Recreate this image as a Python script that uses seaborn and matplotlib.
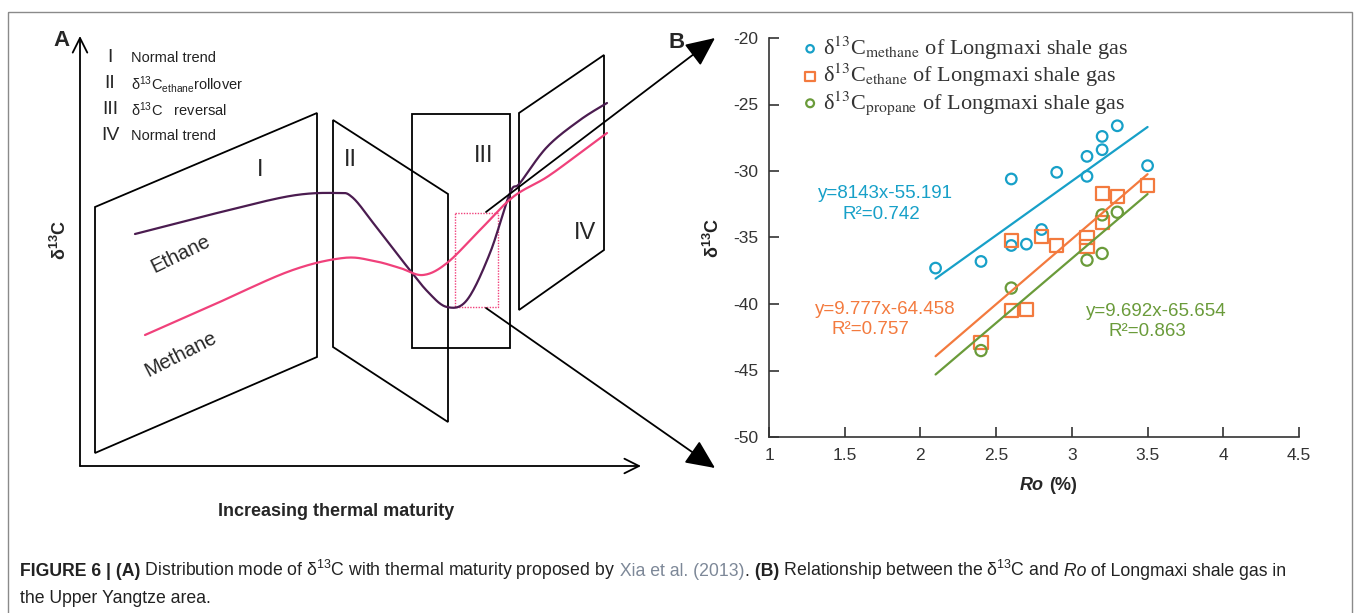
import numpy as np
import pandas as pd
import matplotlib
matplotlib.use("Agg")
import matplotlib.pyplot as plt
import seaborn as sns
from matplotlib.patches import Polygon, Rectangle

# ---------------- data (panel B) ----------------
ro_methane = [2.1, 2.4, 2.6, 2.6, 2.7, 2.8, 2.9, 3.1, 3.1, 3.2, 3.2, 3.3, 3.5]
d13c_methane = [-37.3, -36.8, -30.6, -35.6, -35.5, -34.4, -30.1, -28.9, -30.4, -27.4, -28.4, -26.6, -29.6]
ro_ethane = [2.4, 2.6, 2.6, 2.7, 2.8, 2.9, 3.1, 3.1, 3.2, 3.2, 3.3, 3.5]
d13c_ethane = [-42.9, -35.2, -40.5, -40.4, -34.9, -35.6, -35.0, -35.7, -31.7, -33.9, -31.9, -31.1]
ro_propane = [2.4, 2.6, 3.1, 3.2, 3.2, 3.3]
d13c_propane = [-43.5, -38.8, -36.7, -36.2, -33.3, -33.1]

fit_slopes = [8.143, 9.777, 9.692]
fit_intercepts = [-55.191, -64.458, -65.654]
fit_range = [2.1, 3.5]
eq_labels = ["y=8143x-55.191", "y=9.777x-64.458", "y=9.692x-65.654"]
r2_labels = ["R²=0.742", "R²=0.757", "R²=0.863"]
series_names = ["methane", "ethane", "propane"]
x_ticks = [1, 1.5, 2, 2.5, 3, 3.5, 4, 4.5]
x_ticklabels = ["1", "1.5", "2", "2.5", "3", "3.5", "4", "4.5"]
y_ticks = [-50, -45, -40, -35, -30, -25, -20]
y_ticklabels = ["-50", "-45", "-40", "-35", "-30", "-25", "-20"]

# ---------------- schematic (panel A) ----------------
stage_numerals = ["I", "II", "III", "IV"]
stage_texts = ["Normal trend", "δ$^{13}$C$_{\\mathregular{ethane}}$rollover", "δ$^{13}$C   reversal", "Normal trend"]
ethane_curve = [(135, 234), (213, 214), (290, 196), (336, 193), (352, 197), (374, 224), (405, 264),
                (428, 292), (447, 307), (467, 300), (490, 253), (510, 193), (520, 183), (547, 147),
                (580, 120), (607, 103)]
methane_curve = [(145, 335), (213, 305), (290, 271), (343, 258), (374, 261), (400, 268), (423, 275),
                 (447, 263), (480, 230), (513, 197), (547, 177), (580, 153), (607, 133)]

sns.set_theme(style="ticks")
plt.rcParams['font.family'] = ['Liberation Sans', 'DejaVu Sans']
plt.rcParams['mathtext.fontset'] = 'custom'
plt.rcParams['mathtext.rm'] = 'Liberation Sans'
plt.rcParams['mathtext.it'] = 'Liberation Sans:italic'
plt.rcParams['mathtext.bf'] = 'Liberation Sans:bold'
plt.rcParams['axes.unicode_minus'] = False

C_M = "#17a0c8"
C_E = "#f37a3e"
C_P = "#6a9b3a"
PURPLE = "#4b1c50"
PINK = "#f0417b"

W, H = 1354, 613
fig = plt.figure(figsize=(W / 100, H / 100), dpi=100)
fig.patch.set_facecolor("white")
ax0 = fig.add_axes([0, 0, 1, 1])
ax0.set_xlim(0, W)
ax0.set_ylim(H, 0)
ax0.axis("off")

# outer frame
ax0.add_patch(Rectangle((8, 12), 1344, 610, fill=False, ec="#8a8a8a", lw=1.0))

# ---- panel A drawing ----
def smooth(pts, n=24):
    P = np.asarray(pts, float)
    P = np.vstack([P[0], P, P[-1]])
    out = []
    t = np.linspace(0, 1, n, endpoint=False)[:, None]
    for i in range(1, len(P) - 2):
        p0, p1, p2, p3 = P[i - 1], P[i], P[i + 1], P[i + 2]
        out.append(0.5 * ((2 * p1) + (-p0 + p2) * t + (2 * p0 - 5 * p1 + 4 * p2 - p3) * t ** 2
                          + (-p0 + 3 * p1 - 3 * p2 + p3) * t ** 3))
    out.append(P[-2][None, :])
    return np.vstack(out)

lk = dict(color="black", lw=1.3)
# axes arrows
ax0.annotate("", xy=(80, 36), xytext=(80, 466),
             arrowprops=dict(arrowstyle="->,head_length=0.7,head_width=0.35", mutation_scale=15,
                             shrinkA=0, shrinkB=0, **lk))
ax0.annotate("", xy=(641, 466), xytext=(80, 466),
             arrowprops=dict(arrowstyle="->,head_length=0.7,head_width=0.35", mutation_scale=15,
                             shrinkA=0, shrinkB=0, **lk))
# stage planes
planes = [
    [(95, 207), (317, 113), (317, 357), (95, 453)],
    [(333, 120), (448, 194), (448, 422), (333, 347)],
    [(412, 114), (510, 114), (510, 348), (412, 348)],
    [(519, 113), (604, 55), (604, 250), (519, 310)],
]
for pl in planes:
    ax0.add_patch(Polygon(pl, closed=True, fill=False, ec="black", lw=1.3))

# curves
ec = smooth(ethane_curve)
mc = smooth(methane_curve)
ax0.plot(ec[:, 0], ec[:, 1], color=PURPLE, lw=1.6, solid_capstyle="round")
ax0.plot(mc[:, 0], mc[:, 1], color=PINK, lw=1.6, solid_capstyle="round")

# dotted box
ax0.add_patch(Rectangle((455, 213), 43, 94, fill=False, ec=PINK, lw=1.0, ls=(0, (1, 1))))

# arrows to panel B
ax0.annotate("", xy=(715, 38), xytext=(486, 212),
             arrowprops=dict(arrowstyle="-|>,head_length=1.2,head_width=0.55", mutation_scale=15,
                             shrinkA=0, shrinkB=0, fc="black", **lk))
ax0.annotate("", xy=(715, 468), xytext=(486, 308),
             arrowprops=dict(arrowstyle="-|>,head_length=1.2,head_width=0.55", mutation_scale=15,
                             shrinkA=0, shrinkB=0, fc="black", **lk))

# labels in A
ax0.text(61, 40, "A", fontsize=16, fontweight="bold", ha="center", va="center")
ax0.text(677, 42, "B", fontsize=16, fontweight="bold", ha="center", va="center")
leg_y = [58, 84, 110, 136]
for num, txt, yy in zip(stage_numerals, stage_texts, leg_y):
    ax0.text(110, yy, num, fontsize=14, ha="center", va="center")
    ax0.text(131, yy, txt, fontsize=10.5, ha="left", va="center", color="#222222")
for num, (xx, yy) in zip(stage_numerals, [(260, 170), (350, 160), (484, 156), (585, 233)]):
    ax0.text(xx, yy, num, fontsize=17, ha="center", va="center")
ax0.text(181, 254, "Ethane", fontsize=14.5, rotation=26, ha="center", va="center")
ax0.text(181, 354, "Methane", fontsize=14.5, rotation=27, ha="center", va="center")
ax0.text(60, 240, "δ$^{\\mathbf{13}}$C", fontsize=13, fontweight="bold", rotation=90,
         ha="center", va="center")
ax0.text(336, 512, "Increasing thermal maturity", fontsize=13, fontweight="bold",
         ha="center", va="center")

# ---- panel B ----
axB = fig.add_axes([769 / W, 1 - 437 / H, 530 / W, 399 / H])
axB.patch.set_alpha(0)
colors = [C_M, C_E, C_P]
markers = ["o", "s", "o"]
xs = [ro_methane, ro_ethane, ro_propane]
ys = [d13c_methane, d13c_ethane, d13c_propane]
sizes = [58, 90, 65]
for name, c, m, x, y, s in zip(series_names, colors, markers, xs, ys, sizes):
    df = pd.DataFrame({"Ro": x, "d13C": y})
    sns.scatterplot(data=df, x="Ro", y="d13C", ax=axB, marker=m, s=s, color=c,
                    linewidth=1.6, label=f"δ$^{{13}}$C$_{{\\mathrm{{{name}}}}}$ of Longmaxi shale gas")
    coll = axB.collections[-1]
    coll.set_facecolor("none")
    coll.set_edgecolor(c)
for c, k, b in zip(colors, fit_slopes, fit_intercepts):
    xf = np.array(fit_range)
    sns.lineplot(x=xf, y=k * xf + b, ax=axB, color=c, linewidth=1.6, legend=False)

axB.set_xlim(1, 4.5)
axB.set_ylim(-50, -20)
axB.set_xticks(x_ticks)
axB.set_xticklabels(x_ticklabels)
axB.set_yticks(y_ticks)
axB.set_yticklabels(y_ticklabels)
axB.tick_params(direction="in", length=7, width=1.2, labelsize=12.5, colors="#333333",
                labelcolor="#333333", pad=8)
for sp in ["top", "right"]:
    axB.spines[sp].set_visible(False)
for sp in ["left", "bottom"]:
    axB.spines[sp].set_color("#333333")
    axB.spines[sp].set_linewidth(1.2)
axB.set_xlabel("")
axB.set_ylabel("")

# equations
eq_pos = [(1.77, -31.7), (1.767, -40.4), (3.559, -40.6)]
r2_pos = [(1.743, -33.25), (1.672, -41.95), (3.50, -42.1)]
for c, t, p in zip(colors, eq_labels, eq_pos):
    axB.text(p[0], p[1], t, color=c, fontsize=13.5, ha="center", va="center")
for c, t, p in zip(colors, r2_labels, r2_pos):
    axB.text(p[0], p[1], t, color=c, fontsize=13.5, ha="center", va="center")

leg = axB.legend(loc="upper left", bbox_to_anchor=(789 / W, 1 - 23 / H), bbox_transform=fig.transFigure,
                 frameon=False, fontsize=16, handletextpad=0.15, labelspacing=0.0,
                 handlelength=0.9, borderpad=0, markerscale=0.7)
for t in leg.get_texts():
    t.set_fontfamily(["Liberation Serif", "DejaVu Serif"])
    t.set_math_fontfamily("stix")
    t.set_color("#333333")

# axis labels B
ax0.text(713, 238, "δ$^{\\mathbf{13}}$C", fontsize=13, fontweight="bold", rotation=90,
         ha="center", va="center", color="#222222")
ax0.text(1044, 486, "Ro", fontsize=13, fontweight="bold", fontstyle="italic", ha="right", va="center")
ax0.text(1049, 486, "(%)", fontsize=13, fontweight="bold", ha="left", va="center")

# ---- caption ----
fig.canvas.draw()
renderer = fig.canvas.get_renderer()
cap_fs = 12.7
cap_family = ["Liberation Sans", "DejaVu Sans"]
segments1 = [
    ("FIGURE 6 | (A)", dict(fontweight="bold")),
    (" Distribution mode of δ$^{13}$C with thermal maturity proposed by", {}),
    (" Xia et al. (2013)", dict(color="#7d8898")),
    (".", {}),
    (" (B)", dict(fontweight="bold")),
    (" Relationship between the δ$^{13}$C and", {}),
    (" Ro", dict(fontstyle="italic")),
    (" of Longmaxi shale gas in", {}),
]
def write_line(segs, x, y):
    for s, kw in segs:
        kw2 = dict(fontsize=cap_fs, family=cap_family, color="#222222")
        kw2.update(kw)
        s_draw = s.replace(" ", "\u00a0")
        t = ax0.text(x, y, s_draw, ha="left", va="baseline", **kw2)
        bb = t.get_window_extent(renderer=renderer)
        x += bb.width
write_line(segments1, 20, 576)
write_line([("the Upper Yangtze area.", {})], 20, 603)

fig.savefig("out.png", dpi=100, facecolor="white")
